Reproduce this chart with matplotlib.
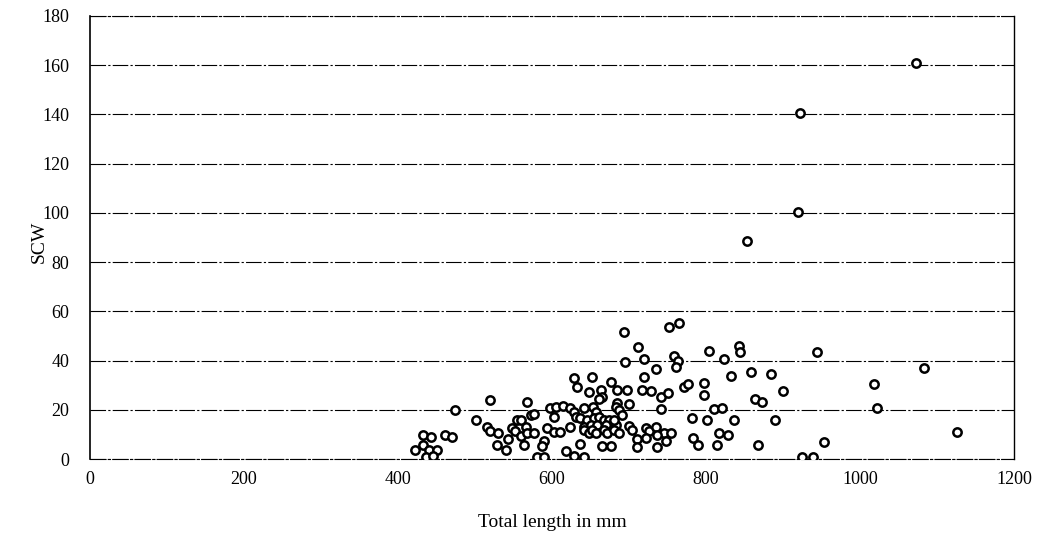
import numpy as np
import matplotlib
matplotlib.use("Agg")
import matplotlib.pyplot as plt

# total length (mm) and SCW
length_mm = [
    1073, 922, 919, 853,
    944, 1083, 1018, 1022, 953, 1126, 925, 939,
    474, 520, 568, 501, 516, 519, 530, 555, 560, 573,
    548, 552, 560, 566, 568, 576, 543, 528, 540, 564, 581,
    432, 443, 461, 470, 422, 433, 440, 451, 436, 446,
    693, 712, 752, 765, 695, 719, 735, 628, 632, 652, 677, 648,
    663, 665, 661, 684, 698, 719, 717, 729, 741, 750, 685, 700, 741,
    598, 605, 614, 623, 642, 653, 657, 603, 628, 631,
    637, 646, 654, 661, 667, 674, 641, 650, 659, 670, 683, 680,
    683, 687, 691, 577, 594, 602, 611, 623, 641, 648, 652,
    657, 667, 672, 680, 687, 700, 704, 722, 726, 735, 745, 737,
    711, 722, 589, 587, 636, 665, 676, 618, 628, 641, 589, 710, 737, 748,
    758, 764, 761, 804, 843, 844, 823, 833, 858, 884, 900,
    771, 777, 797, 798, 863, 873, 810, 821, 782, 801, 836, 889,
    754, 783, 789, 817, 828, 814, 868,
]
scw = [
    161, 140.6, 100.4, 88.5,
    43.5, 37, 30.5, 20.7, 7, 11, 0.8, 0.8,
    20, 24, 23, 16, 13, 11.5, 10.7, 16, 16, 18,
    12.5, 11.5, 9.5, 12.8, 10.5, 10.4, 8, 5.7, 3.7, 5.7, 1,
    9.6, 8.9, 9.8, 9, 3.7, 5.7, 3.7, 3.7, 1, 1.2,
    51.5, 45.4, 53.8, 55.1, 39.3, 40.5, 36.6, 32.8, 29.4, 33.2, 31.4, 27.4,
    28, 25, 24.3, 28, 28, 33.2, 28, 27.8, 25, 26.7, 22.6, 22.3, 20.2,
    20.8, 21.2, 21.7, 20.6, 20.8, 21, 19.2, 17.2, 19.2, 17.2,
    16.5, 15.8, 16.5, 16.9, 15.8, 15.8, 13.1, 13.8, 13.8, 13.8, 13.8, 15.8,
    21.2, 19.9, 17.9, 18.3, 12.4, 10.8, 10.8, 13.1, 11.8, 10.4, 11.8,
    10.7, 11.8, 10.4, 11.8, 10.4, 13.4, 11.8, 12.4, 11.5, 12.9, 10.7, 9.8,
    8, 8.4, 7.3, 5.3, 6, 5.4, 5.4, 3.3, 1.4, 0.9, 0.9, 4.7, 5, 7.5,
    42, 40, 37.3, 44, 46, 43.6, 40.5, 33.7, 35.5, 34.5, 27.6,
    29.4, 30.5, 30.8, 26, 24.3, 23, 20.2, 20.9, 16.5, 15.8, 15.8, 15.8,
    10.7, 8.4, 5.7, 10.7, 9.8, 5.7, 5.7,
]

plt.rcParams['font.family'] = ['Liberation Serif', 'DejaVu Serif']

fig = plt.figure(figsize=(10.46, 5.44), dpi=100)
ax = fig.add_axes([90 / 1046, 1 - 459 / 544, 924 / 1046, 443 / 544])

ax.set_xlim(0, 1200)
ax.set_ylim(0, 180)
ax.set_xticks(np.arange(0, 1201, 200))
ax.set_yticks(np.arange(0, 181, 20))

ax.yaxis.grid(True, color="black", linewidth=0.8, linestyle=(0, (14, 2, 2, 2)))
ax.set_axisbelow(True)

ax.scatter(length_mm, scw, s=36, facecolors="white", edgecolors="black",
           linewidths=1.8, zorder=3)

for side in ["top", "bottom"]:
    ax.spines[side].set_linestyle((0, (14, 2, 2, 2)))
    ax.spines[side].set_linewidth(0.8)
ax.spines["left"].set_linewidth(1.2)
ax.spines["right"].set_linewidth(1.0)
ax.spines["right"].set_linestyle((0, (6, 1)))

ax.tick_params(length=0, labelsize=13)
ax.tick_params(axis="x", pad=9)
ax.tick_params(axis="y", pad=15)

ax.set_xlabel("Total length in mm", fontsize=14)
ax.set_ylabel("SCW", fontsize=14)
ax.xaxis.set_label_coords(0.5, -0.125)
ax.yaxis.set_label_coords(-0.046, 0.49)

fig.savefig("out.png", dpi=100)
